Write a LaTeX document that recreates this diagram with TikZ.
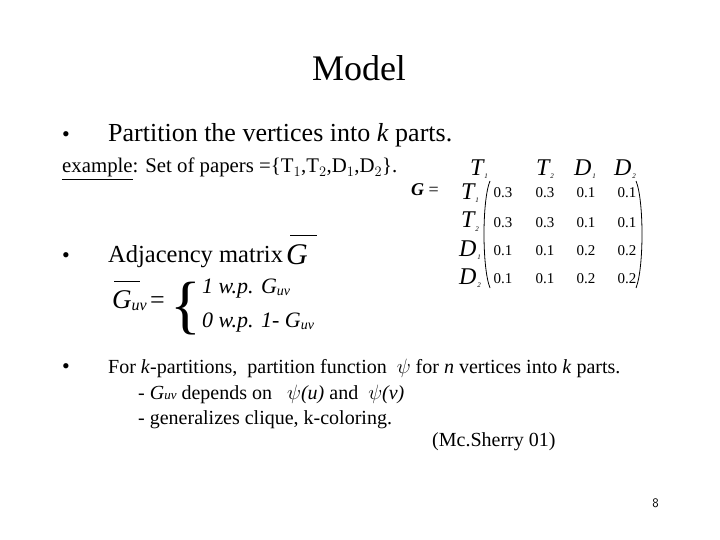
\documentclass[tikz,border=0pt]{standalone}
\usepackage{fontspec}
\setmainfont{Liberation Serif}
\begin{document}
\begin{tikzpicture}[x=1pt,y=-1pt,
  t/.style={anchor=base west,inner sep=0pt,font=\fontsize{#1}{#1}\selectfont},
  t/.default=16,
  m/.style={anchor=base,inner sep=0pt,font=\fontsize{15}{15}\selectfont},
  ml/.style={anchor=base,inner sep=0pt,font=\fontsize{24}{24}\selectfont\itshape}]
\useasboundingbox (0,0) rectangle (720,540);
\node[anchor=base,inner sep=0pt,font=\fontsize{36}{36}\selectfont] (title) at (359,81) {Model};
\node[t=22] (b1) at (62,142) {•};
\node[t=26] (l1) at (108,142) {Partition the vertices into \textit{k} parts.};
\node[t=20.8] (ex) at (62,173) {\underline{example}: Set of papers =\{T$_1$,T$_2$,D$_1$,D$_2$\}.};
\node[t=18] (g) at (411,196) {\textbf{\textit{G}} =};
% matrix
\newcommand\lab[2]{#1\hspace{1pt}{\fontsize{7}{7}\selectfont\raisebox{-3pt}{#2}}}
\foreach \x/\a/\b in {479/T/1,545/T/2,585/D/1,625/D/2}
  \node[ml] at (\x,176) {\lab{\a}{\b}};
\foreach \y/\a/\b in {200/T/1,228/T/2,256/D/1,284/D/2}
  \node[ml] at (470,\y) {\lab{\a}{\b}};
\foreach \y/\a/\b/\c/\d in {198/0.3/0.3/0.1/0.1,227/0.3/0.3/0.1/0.1,255/0.1/0.1/0.2/0.2,283/0.1/0.1/0.2/0.2}{
  \node[m] at (503,\y) {\a}; \node[m] at (545,\y) {\b};
  \node[m] at (586,\y) {\c}; \node[m] at (627,\y) {\d};}
\draw[line width=0.8pt] (490,181) .. controls (482,200) and (482,268) .. (490,288);
\draw[line width=0.8pt] (636,181) .. controls (644,200) and (644,268) .. (636,288);
\node[t=22] (b2) at (62,262) {•};
\node[t=24.5] (l2) at (108,262) {Adjacency matrix};
\node[t=30,font=\fontsize{30}{30}\selectfont\itshape] (gb) at (286,264) {G};
\draw (290,235) -- (317,235);
\node[t=26,font=\fontsize{27}{27}\selectfont\itshape] (guv) at (112,308) {G\fontsize{16}{16}\selectfont\raisebox{-2pt}{uv}};
\draw (114,281) -- (140,281);
\node[t=26] (eq) at (150,308) {=};
\node[anchor=center,inner sep=0pt,font=\fontsize{64}{64}\selectfont] (br) at (186,309) {\{};
\node[t=22,font=\fontsize{22}{22}\selectfont\itshape] (c1) at (202,293) {1 w.p. G\fontsize{14}{14}\selectfont\raisebox{-2pt}{uv}};
\node[t=22,font=\fontsize{22}{22}\selectfont\itshape] (c2) at (202,327) {0 w.p. 1- G\fontsize{14}{14}\selectfont\raisebox{-2pt}{uv}};
\node[t=22] (b3) at (62,373) {•};
\node[t=20] (l3) at (108,373) {For \textit{k}-partitions,\ \ partition function \ $\psi$ for \textit{n} vertices into \textit{k} parts.};
\node[t=20] (l4) at (138,399) {- \textit{G}{\fontsize{13}{13}\selectfont\textit{uv}} depends on \ \ $\psi$\textit{(u)} and \ $\psi$\textit{(v)}};
\node[t=20] (l5) at (138,424) {- generalizes clique, k-coloring.};
\node[t=20] (ref) at (432,446) {(Mc.Sherry 01)};
\node[anchor=base east,inner sep=0pt,font=\fontsize{13}{13}\selectfont\sffamily] (pg) at (659,507) {8};
\end{tikzpicture}
\end{document}
